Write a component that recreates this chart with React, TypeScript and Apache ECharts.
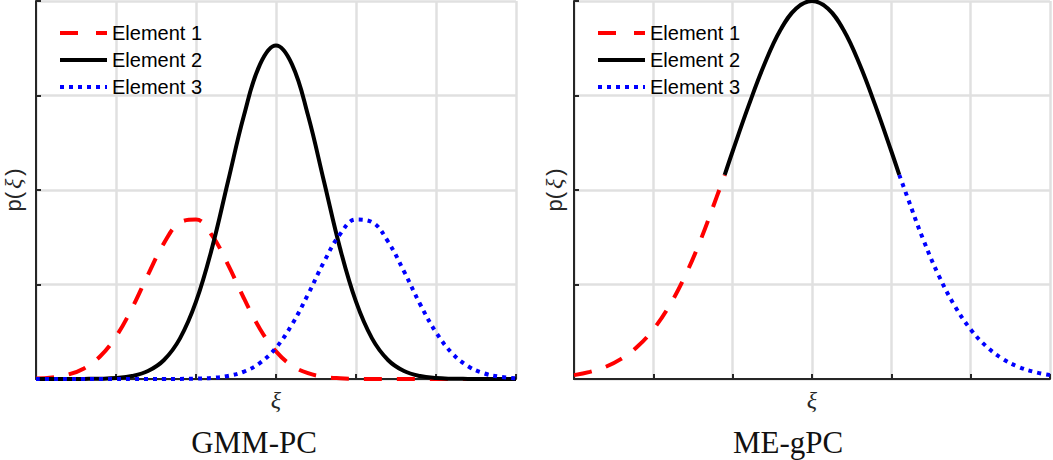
import React, { useEffect, useRef } from "react";
import * as echarts from "echarts";

// Shared x grid for the GMM-PC panel (in units of the x grid spacing)
const XI = [
  0, 0.2, 0.4, 0.6, 0.8, 1.0, 1.2, 1.4, 1.6, 1.8, 2.0, 2.2, 2.4, 2.6, 2.8, 3.0,
  3.2, 3.4, 3.6, 3.8, 4.0, 4.2, 4.4, 4.6, 4.8, 5.0, 5.2, 5.4, 5.6, 5.8, 6.0,
];

// GMM-PC panel values
const GMM_ELEMENT1 = [
  0.006, 0.017, 0.046, 0.112, 0.238, 0.449, 0.749, 1.104, 1.438, 1.656, 1.687,
  1.52, 1.21, 0.852, 0.53, 0.292, 0.142, 0.061, 0.023, 0.008, 0.002, 0, 0, 0, 0,
  0, 0, 0, 0, 0, 0,
];
const GMM_ELEMENT2 = [
  0, 0, 0, 0.001, 0.003, 0.01, 0.031, 0.084, 0.201, 0.43, 0.818, 1.385, 2.09,
  2.79, 3.33, 3.53, 3.33, 2.79, 2.09, 1.385, 0.818, 0.43, 0.201, 0.084, 0.031,
  0.01, 0.003, 0.001, 0, 0, 0,
];
const GMM_ELEMENT3 = [
  0, 0, 0, 0, 0, 0, 0, 0, 0, 0.001, 0.004, 0.012, 0.032, 0.078, 0.17, 0.331,
  0.577, 0.895, 1.24, 1.532, 1.688, 1.66, 1.455, 1.139, 0.794, 0.494, 0.274,
  0.136, 0.06, 0.024, 0.008,
];

// ME-gPC panel values
const ME_ELEMENT1_X = [0, 0.2, 0.4, 0.6, 0.8, 1.0, 1.2, 1.4, 1.6, 1.8, 1.9];
const ME_ELEMENT1_Y = [0.041, 0.075, 0.129, 0.215, 0.343, 0.525, 0.772, 1.09, 1.48, 1.93, 2.16];
const ME_ELEMENT2_X = [1.9, 2.0, 2.2, 2.4, 2.6, 2.8, 3.0, 3.2, 3.4, 3.6, 3.8, 4.0, 4.1];
const ME_ELEMENT2_Y = [2.16, 2.41, 2.89, 3.33, 3.69, 3.92, 4.0, 3.92, 3.69, 3.33, 2.89, 2.41, 2.16];
const ME_ELEMENT3_X = [4.1, 4.2, 4.4, 4.6, 4.8, 5.0, 5.2, 5.4, 5.6, 5.8, 6.0];
const ME_ELEMENT3_Y = [2.16, 1.93, 1.48, 1.09, 0.772, 0.525, 0.343, 0.215, 0.129, 0.075, 0.041];

const LEGEND_NAMES = ["Element 1", "Element 2", "Element 3"];
const PANEL_TITLES = ["GMM-PC", "ME-gPC"];
const X_LABEL = "ξ";
const Y_LABEL = "{s|p(}{g|ξ}{s|)}";

const AXIS_COLOR = "#262626";
const GRID_COLOR = "#e0e0e0";
const STYLES = [
  { color: "#ff0000", type: [18, 15] as any },
  { color: "#000000", type: "solid" as any },
  { color: "#0000ff", type: [4, 5] as any },
];

const zip = (xs: number[], ys: number[]) => xs.map((x, i) => [x, ys[i]]);

function makeX(gridIndex: number) {
  return {
    type: "value",
    gridIndex,
    min: 0,
    max: 6,
    interval: 1,
    axisLine: { show: true, onZero: false, lineStyle: { color: AXIS_COLOR, width: 2 } },
    axisTick: { show: true, inside: true, length: 5, lineStyle: { color: AXIS_COLOR, width: 2 } },
    splitLine: { show: true, lineStyle: { color: GRID_COLOR, width: 2.5 } },
    axisLabel: {
      show: true,
      margin: 9,
      formatter: (v: number) => (v === 3 ? X_LABEL : ""),
      fontFamily: '"Liberation Serif", serif',
      fontStyle: "italic",
      fontSize: 24,
      color: AXIS_COLOR,
    },
  };
}

function makeY(gridIndex: number, nameGap: number) {
  return {
    type: "value",
    gridIndex,
    min: 0,
    max: 4,
    interval: 1,
    name: Y_LABEL,
    nameLocation: "middle",
    nameRotate: 90,
    nameGap,
    nameTextStyle: {
      color: AXIS_COLOR,
      rich: {
        s: { fontFamily: '"Liberation Sans", Arial, sans-serif', fontSize: 22, color: AXIS_COLOR, padding: [0, 1, 0, 1] },
        g: { fontFamily: '"Liberation Serif", serif', fontStyle: "italic", fontSize: 24, color: AXIS_COLOR, padding: [0, 2, 0, 2] },
      },
    },
    axisLine: { show: true, onZero: false, lineStyle: { color: AXIS_COLOR, width: 2 } },
    axisTick: { show: true, inside: true, length: 5, lineStyle: { color: AXIS_COLOR, width: 2 } },
    splitLine: { show: true, lineStyle: { color: GRID_COLOR, width: 2.5 } },
    axisLabel: { show: false },
  };
}

function lineSeries(name: string, idx: number, data: number[][], s: number) {
  return {
    type: "line",
    name,
    xAxisIndex: idx,
    yAxisIndex: idx,
    data,
    symbol: "none",
    showSymbol: false,
    smooth: 0.4,
    clip: false,
    silent: true,
    lineStyle: { color: STYLES[s].color, width: 4, type: STYLES[s].type, cap: "butt" },
    z: 3 + s,
  };
}

function legendGraphics(x0: number) {
  const ys = [33, 60, 87];
  const out: any[] = [];
  ys.forEach((y, i) => {
    out.push({
      type: "line",
      shape: { x1: x0, y1: y, x2: x0 + 47, y2: y },
      style: {
        stroke: STYLES[i].color,
        lineWidth: 4,
        lineDash: i === 0 ? [18, 18] : i === 2 ? [4, 5] : null,
      },
      z: 10,
    });
    out.push({
      type: "text",
      x: x0 + 52,
      y,
      style: {
        text: LEGEND_NAMES[i],
        font: '20px "Liberation Sans", Arial, sans-serif',
        fill: "#000",
        verticalAlign: "middle",
        align: "left",
      },
      z: 10,
    });
  });
  return out;
}

export default function App() {
  const ref = useRef<HTMLDivElement>(null);
  useEffect(() => {
    const chart = echarts.init(ref.current!, null, { renderer: "svg" });
    const option: any = {
      animation: false,
      backgroundColor: "#ffffff",
      grid: [
        { left: 35, top: 1, width: 481, height: 378 },
        { left: 574, top: 1, width: 480, height: 378 },
      ],
      xAxis: [makeX(0), makeX(1)],
      yAxis: [makeY(0, 11), makeY(1, 8)],
      series: [
        lineSeries(LEGEND_NAMES[0], 0, zip(XI, GMM_ELEMENT1), 0),
        lineSeries(LEGEND_NAMES[1], 0, zip(XI, GMM_ELEMENT2), 1),
        lineSeries(LEGEND_NAMES[2], 0, zip(XI, GMM_ELEMENT3), 2),
        lineSeries(LEGEND_NAMES[0], 1, zip(ME_ELEMENT1_X, ME_ELEMENT1_Y), 0),
        lineSeries(LEGEND_NAMES[1], 1, zip(ME_ELEMENT2_X, ME_ELEMENT2_Y), 1),
        lineSeries(LEGEND_NAMES[2], 1, zip(ME_ELEMENT3_X, ME_ELEMENT3_Y), 2),
      ],
      graphic: [
        ...legendGraphics(60),
        ...legendGraphics(598),
        {
          type: "text",
          x: 254,
          y: 442,
          style: {
            text: PANEL_TITLES[0],
            font: '31px "Liberation Serif", serif',
            fill: "#111",
            align: "center",
            verticalAlign: "middle",
          },
        },
        {
          type: "text",
          x: 788,
          y: 442,
          style: {
            text: PANEL_TITLES[1],
            font: '31px "Liberation Serif", serif',
            fill: "#111",
            align: "center",
            verticalAlign: "middle",
          },
        },
      ],
    };
    chart.setOption(option);
    return () => chart.dispose();
  }, []);
  return (
    <div
      ref={ref}
      style={{ position: "absolute", left: 0, top: 0, width: 1053, height: 460 }}
    />
  );
}
